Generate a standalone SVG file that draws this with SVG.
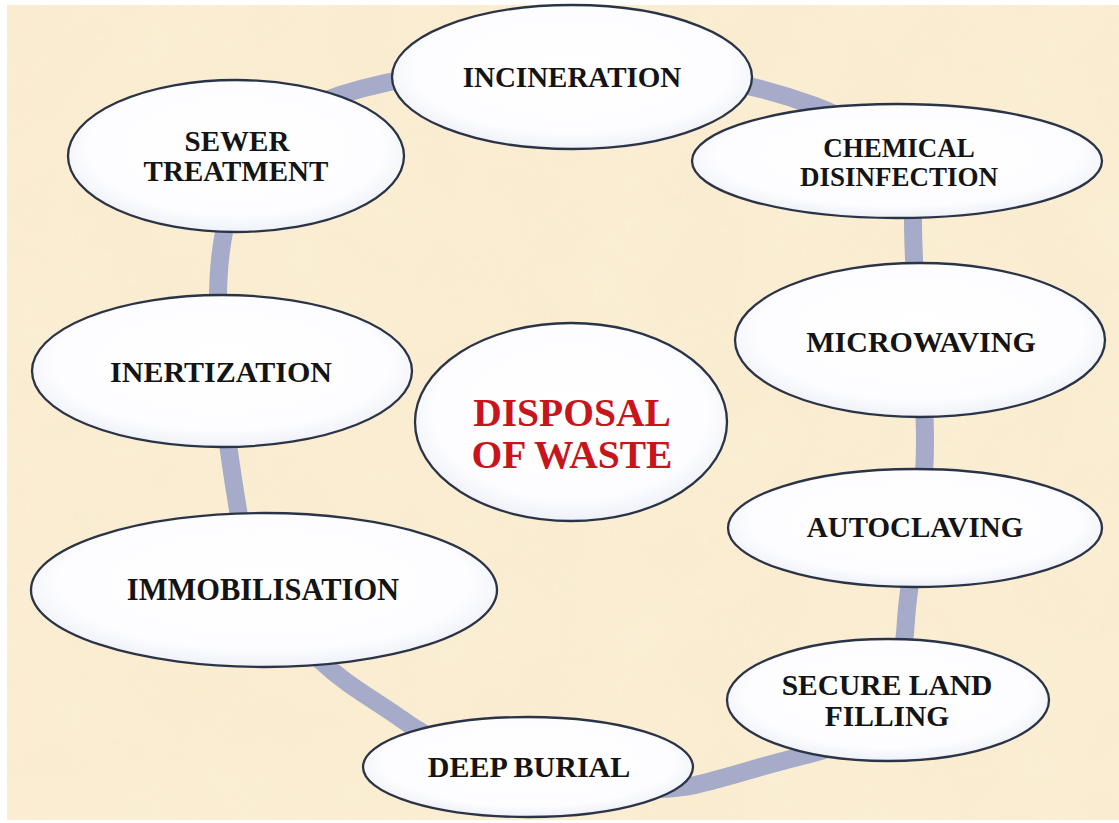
<svg xmlns="http://www.w3.org/2000/svg" width="1119" height="823" viewBox="0 0 1119 823">
  <defs>
    <radialGradient id="nodeFill" cx="50%" cy="45%" r="55%">
      <stop offset="0" stop-color="#ffffff"/>
      <stop offset="0.8" stop-color="#fdfdff"/>
      <stop offset="1" stop-color="#eef1f8"/>
    </radialGradient>
    <filter id="paper" x="0" y="0" width="100%" height="100%">
      <feTurbulence type="fractalNoise" baseFrequency="0.012" numOctaves="3" seed="4" result="n"/>
      <feColorMatrix in="n" type="matrix" values="0 0 0 0 0.98  0 0 0 0 0.90  0 0 0 0 0.74  0 0 0 0.55 -0.1" result="c"/>
      <feComposite in="c" in2="SourceGraphic" operator="in"/>
    </filter>
    <style>
      .node ellipse { fill: url(#nodeFill); stroke: #2b3447; stroke-width: 2.3; }
      .lbl { font-family: "Liberation Serif", "Times New Roman", serif; font-weight: bold; fill: #141414; text-anchor: middle; }
      .center { font-family: "Liberation Serif", "Times New Roman", serif; font-weight: bold; fill: #c8141b; text-anchor: middle; font-size: 39.5px; }
      .ring { fill: none; stroke: #a5abc8; stroke-width: 18; }
    </style>
  </defs>

  <rect x="0" y="0" width="1119" height="823" fill="#ffffff"/>
  <rect x="7" y="5" width="1112" height="815" fill="#f9ecd0"/>
  <rect x="7" y="5" width="1112" height="815" fill="#f9ecd0" filter="url(#paper)" opacity="0.7"/>

  <g id="connectors">
    <path class="ring" d="M 218,300 C 218,200 250,125 340,95 C 400,76 460,68 570,68 C 680,68 750,82 815,106 C 880,130 913,170 913,220 C 913,300 925,370 925,440 C 925,520 910,560 906,620 C 902,700 870,740 810,754 C 760,766 720,780 690,786 C 600,800 470,770 400,718 C 370,697 345,684 320,660 C 270,610 245,560 238,510 C 228,450 218,380 218,300 Z"/>
  </g>

  <g id="incineration" class="node">
    <ellipse cx="572" cy="77" rx="180" ry="72"/>
    <text class="lbl" x="572" y="87" font-size="29">INCINERATION</text>
  </g>

  <g id="sewer-treatment" class="node">
    <ellipse cx="236" cy="156" rx="168" ry="76"/>
    <text class="lbl" x="237" y="151" font-size="29">SEWER</text>
    <text class="lbl" x="236" y="181" font-size="29">TREATMENT</text>
  </g>

  <g id="chemical-disinfection" class="node">
    <ellipse cx="897" cy="161" rx="205" ry="57"/>
    <text class="lbl" x="899" y="157" font-size="27">CHEMICAL</text>
    <text class="lbl" x="899" y="186" font-size="27">DISINFECTION</text>
  </g>

  <g id="microwaving" class="node">
    <ellipse cx="920" cy="340" rx="185" ry="77"/>
    <text class="lbl" x="921" y="352" font-size="30">MICROWAVING</text>
  </g>

  <g id="inertization" class="node">
    <ellipse cx="222" cy="371" rx="190" ry="76"/>
    <text class="lbl" x="221" y="382" font-size="30">INERTIZATION</text>
  </g>

  <g id="disposal-of-waste" class="node">
    <ellipse cx="571" cy="422" rx="156" ry="99"/>
    <text class="center" x="572" y="426">DISPOSAL</text>
    <text class="center" x="572" y="468">OF WASTE</text>
  </g>

  <g id="autoclaving" class="node">
    <ellipse cx="915" cy="528" rx="187" ry="59"/>
    <text class="lbl" x="915" y="537" font-size="29">AUTOCLAVING</text>
  </g>

  <g id="immobilisation" class="node">
    <ellipse cx="264" cy="590" rx="233" ry="77"/>
    <text class="lbl" x="263" y="600" font-size="30.5">IMMOBILISATION</text>
  </g>

  <g id="secure-land-filling" class="node">
    <ellipse cx="888" cy="700" rx="161" ry="61"/>
    <text class="lbl" x="887" y="695" font-size="29.5">SECURE LAND</text>
    <text class="lbl" x="887" y="726" font-size="29.5">FILLING</text>
  </g>

  <g id="deep-burial" class="node">
    <ellipse cx="528" cy="767" rx="165" ry="50"/>
    <text class="lbl" x="529" y="777" font-size="30">DEEP BURIAL</text>
  </g>
</svg>
